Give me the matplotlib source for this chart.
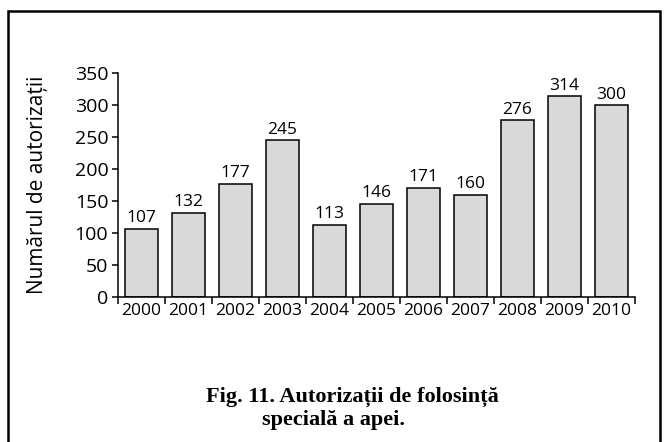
import matplotlib.pyplot as plt
from matplotlib.patches import Rectangle

years = ['2000', '2001', '2002', '2003', '2004', '2005',
         '2006', '2007', '2008', '2009', '2010']
counts = [107, 132, 177, 245, 113, 146, 171, 160, 276, 314, 300]

plt.rcParams['font.family'] = ['Open Sans', 'DejaVu Sans']

W, H = 665, 442
fig = plt.figure(figsize=(W / 100, H / 100), dpi=100)
ax = fig.add_axes([118 / W, 1 - 297 / H, 517 / W, 224 / H])

x = range(len(years))
bars = ax.bar(x, counts, width=0.72, color='#d9d9d9', edgecolor='black', linewidth=1.1)
for b, v in zip(bars, counts):
    ax.annotate(str(v), (b.get_x() + b.get_width() / 2, v), xytext=(0, 4.5),
                textcoords='offset points', ha='center', va='baseline', fontsize=12.5)

ax.set_xlim(-0.5, len(years) - 0.5)
ax.set_ylim(0, 350)
ax.set_yticks(range(0, 351, 50))
ax.tick_params(axis='y', labelsize=14, length=4, width=1.1, pad=3)

# ticks between categories, labels centred under bars
ax.set_xticks([i - 0.5 for i in range(len(years) + 1)])
ax.set_xticklabels([])
ax.set_xticks(list(x), minor=True)
ax.set_xticklabels(years, minor=True, fontsize=12.5)
ax.tick_params(axis='x', which='major', length=5, width=1.1)
ax.tick_params(axis='x', which='minor', length=0, pad=4)

for s in ['top', 'right']:
    ax.spines[s].set_visible(False)
for s in ['left', 'bottom']:
    ax.spines[s].set_linewidth(1.1)

fig.text(38 / W, 1 - 185 / H, 'Numărul de autorizații', rotation=90,
         ha='center', va='center', fontsize=15)

serif = ['Liberation Serif', 'DejaVu Serif']
fig.text(352 / W, 1 - 402 / H, 'Fig. 11. Autorizații de folosință',
         ha='center', va='baseline', fontsize=16, fontweight='bold', family=serif)
fig.text(333 / W, 1 - 425 / H, 'specială a apei.',
         ha='center', va='baseline', fontsize=16, fontweight='bold', family=serif)

fig.patches.append(Rectangle((8 / W, -10 / H), 652 / W, 441 / H,
                             transform=fig.transFigure, fill=False,
                             edgecolor='black', linewidth=1.8))

fig.savefig('out.png', dpi=100)
